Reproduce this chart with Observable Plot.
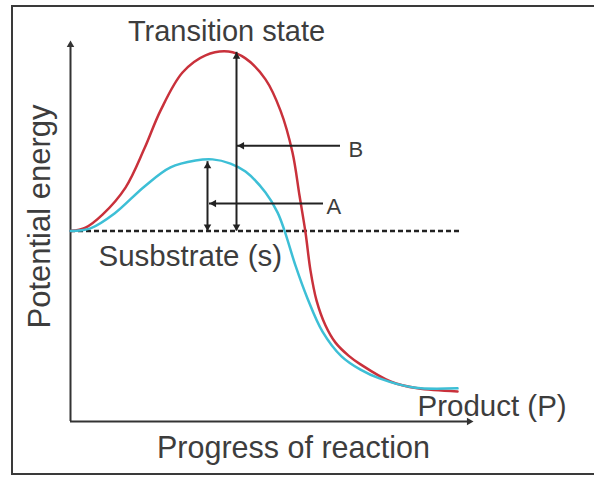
<!DOCTYPE html>
<html>
<head>
<meta charset="utf-8">
<script src="https://cdn.jsdelivr.net/npm/d3@7"></script>
<script src="https://cdn.jsdelivr.net/npm/@observablehq/plot@0.6"></script>
<style>
  html, body { margin: 0; padding: 0; background: #fff; overflow: hidden; }
  #wrap { position: relative; width: 594px; height: 478px; }
  #frame { position: absolute; left: 11px; top: 5px; width: 600px; height: 470px;
           border: 2px solid #3a3a3a; box-sizing: border-box; pointer-events: none; }
</style>
</head>
<body>
<div id="wrap"><div id="frame"></div></div>
<script>
// Progress of reaction (x, 0–100) and potential energy (e, 0–100)
const redX  = [0, 3.75, 8, 13.75, 18.5, 22.5, 28, 33.75, 39.5, 43.75, 48.75, 52.5, 55.5, 57.25, 58.75, 60, 61.5, 63.75, 66.25, 69.5, 72.5, 80, 86.75, 96.75];
const redE  = [50, 50.9, 54.3, 61.4, 71.7, 81.6, 91.6, 96.1, 97.1, 95.3, 89.8, 81.6, 70.6, 59.3, 49.6, 39.6, 31.8, 25.2, 20.7, 17.3, 15.0, 10.5, 8.7, 7.9];
const cyanX = [0, 5, 11, 18.5, 25, 31.25, 35.5, 40, 43.75, 48.75, 51.75, 53.5, 56.25, 59.25, 63, 67.75, 72.5, 77.25, 85.75, 96.75];
const cyanE = [50, 50.7, 54.6, 61.7, 66.7, 68.5, 68.8, 67.7, 65.6, 60.1, 54.9, 50.1, 40.9, 32.3, 23.6, 17.1, 13.6, 11.3, 8.9, 8.7];

const substrateLevel = 50;
const dashedEnd = 97.5;

// Annotation arrows (data units)
const vArrowNames = ["B", "A"];
const vArrowX     = [41.5, 34.25];
const vArrowFrom  = [50, 50];
const vArrowTo    = [96.9, 68.2];
const hArrowNames = ["B", "A"];
const hArrowY     = [72.4, 57.2];
const hArrowFrom  = [67.5, 63.25];
const hArrowTo    = [41.75, 34.75];

// Labels
const labelText   = ["Transition state", "Susbstrate (s)", "Product (P)", "Progress of reaction"];
const labelX      = [39, 7, 86.75, 55.75];
const labelE      = [102.4, 43.3, 3.9, -7.1];
const labelAnchor = ["middle", "start", "start", "middle"];
const labelSize   = [29, 29.5, 29.5, 30.5];
const letterText = ["B", "A"];
const letterX = [69.5, 64];
const letterE = [71.4, 56.4];
const yTitle = "Potential energy";
const yTitleX = -7.6;
const yTitleE = 53.8;

const axisMax = { x: 100.75, e: 100 };

const red = d3.range(redX.length).map(i => ({x: redX[i], e: redE[i]}));
const cyan = d3.range(cyanX.length).map(i => ({x: cyanX[i], e: cyanE[i]}));
const vArrows = vArrowNames.map((n, i) => ({n, x: vArrowX[i], e1: vArrowFrom[i], e2: vArrowTo[i]}));
const hArrows = hArrowNames.map((n, i) => ({n, e: hArrowY[i], x1: hArrowFrom[i], x2: hArrowTo[i]}));
const labels = labelText.map((t, i) => ({t, x: labelX[i], e: labelE[i], a: labelAnchor[i], s: labelSize[i]}));
const letters = letterText.map((t, i) => ({t, x: letterX[i], e: letterE[i]}));

const headR = 3.6;
const headS = Math.sqrt(Math.PI) * headR * 0.6824; // tip distance from symbol centre
const ink = "#222";
const textInk = "#3d3d3d";
const font = "'Liberation Sans', Arial, Helvetica, sans-serif";

const chart = Plot.plot({
  width: 594,
  height: 478,
  marginLeft: 70,
  marginRight: 124,
  marginTop: 40,
  marginBottom: 57,
  x: {domain: [0, 100], axis: null},
  y: {domain: [0, 100], axis: null},
  style: {background: "transparent", overflow: "visible", fontFamily: font},
  marks: [
    // axes
    Plot.ruleX([0], {y1: 0, y2: axisMax.e - 1, stroke: "#333", strokeWidth: 2}),
    Plot.ruleY([0], {x1: 0, x2: axisMax.x - 1, stroke: "#333", strokeWidth: 2}),
    Plot.dot([0], {x: 0, y: axisMax.e, symbol: "triangle2", r: headR, fill: "#333", rotate: 0, dy: headS}),
    Plot.dot([0], {x: axisMax.x, y: 0, symbol: "triangle2", r: headR, fill: "#333", rotate: 90, dx: -headS}),
    // substrate dashed level
    Plot.ruleY([substrateLevel], {x1: 0, x2: dashedEnd, stroke: "#222", strokeWidth: 2.5, strokeDasharray: "5,3"}),
    // curves
    Plot.line(red, {x: "x", y: "e", stroke: "#c9313b", strokeWidth: 2.5, curve: "catmull-rom"}),
    Plot.line(cyan, {x: "x", y: "e", stroke: "#3dbfd6", strokeWidth: 2.5, curve: "catmull-rom"}),
    // vertical double arrows
    Plot.ruleX(vArrows, {x: "x", y1: "e1", y2: "e2", stroke: ink, strokeWidth: 2}),
    Plot.dot(vArrows, {x: "x", y: "e2", symbol: "triangle2", r: headR, fill: ink, rotate: 0, dy: headS}),
    Plot.dot(vArrows, {x: "x", y: "e1", symbol: "triangle2", r: headR, fill: ink, rotate: 180, dy: -headS}),
    // horizontal pointer arrows
    Plot.ruleY(hArrows, {y: "e", x1: "x1", x2: "x2", stroke: ink, strokeWidth: 2}),
    Plot.dot(hArrows, {x: "x2", y: "e", symbol: "triangle2", r: headR, fill: ink, rotate: -90, dx: headS}),
    // text
    Plot.text(labels.filter(d => d.a === "middle"), {x: "x", y: "e", text: "t", textAnchor: "middle", fontSize: "s", fill: textInk}),
    Plot.text(labels.filter(d => d.a === "start"), {x: "x", y: "e", text: "t", textAnchor: "start", fontSize: "s", fill: textInk}),
    Plot.text(letters, {x: "x", y: "e", text: "t", textAnchor: "start", fontSize: 22, fill: textInk}),
    Plot.text([yTitle], {x: yTitleX, y: yTitleE, text: d => d, rotate: -90, fontSize: 31, fill: textInk})
  ]
});
document.getElementById("wrap").prepend(chart);
</script>
</body>
</html>
